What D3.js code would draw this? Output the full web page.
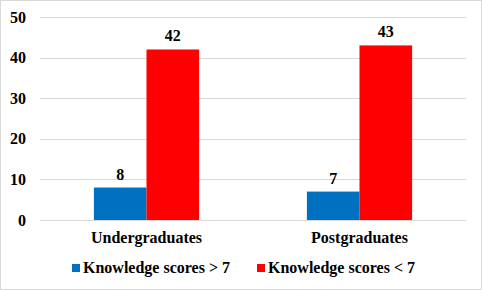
<!DOCTYPE html>
<html>
<head>
<meta charset="utf-8">
<script src="https://cdn.jsdelivr.net/npm/d3@7"></script>
<style>
  body { margin: 0; background: #fff; }
  svg text { font-family: "Liberation Serif", "Times New Roman", Times, serif; font-weight: bold; fill: #000; }
</style>
</head>
<body>
<svg id="chart"></svg>
<script>
const categories = ["Undergraduates", "Postgraduates"];
const seriesNames = ["Knowledge scores > 7", "Knowledge scores < 7"];
const above7 = [8, 7];
const below7 = [42, 43];
const yTicks = [0, 10, 20, 30, 40, 50];
const colors = ["#0070C0", "#FF0000"];

const width = 482, height = 290;
const margin = { top: 17, right: 16, bottom: 70, left: 40 };
const fontSize = "16px";

const svg = d3.select("#chart")
    .attr("width", width)
    .attr("height", height);

// outer border
svg.append("rect")
    .attr("x", 0.5).attr("y", 0.5)
    .attr("width", width - 1).attr("height", height - 1)
    .attr("fill", "#fff")
    .attr("stroke", "#d9d9d9");

const plotW = width - margin.left - margin.right;
const plotH = 220 - margin.top;

const g = svg.append("g")
    .attr("transform", `translate(${margin.left},${margin.top})`);

const x = d3.scaleBand().domain(categories).range([0, plotW]).padding(0);
const y = d3.scaleLinear().domain([0, 50]).range([plotH, 0]);

// gridlines
g.selectAll(".grid")
    .data(yTicks)
    .join("line")
    .attr("class", "grid")
    .attr("x1", 0).attr("x2", plotW)
    .attr("y1", d => Math.round(y(d)) + 0.5)
    .attr("y2", d => Math.round(y(d)) + 0.5)
    .attr("stroke", "#d9d9d9");

// y axis labels
const yAxis = d3.axisLeft(y).tickValues(yTicks).tickSize(0).tickPadding(14);
g.append("g")
    .call(yAxis)
    .attr("font-family", null)
    .call(a => a.select(".domain").remove())
    .selectAll("text")
    .style("font-size", fontSize);

const barW = x.bandwidth() * 0.247;
const data = categories.map((c, i) => ({ cat: c, vals: [above7[i], below7[i]] }));

data.forEach(d => {
  const cx = x(d.cat) + x.bandwidth() / 2;
  d.vals.forEach((v, j) => {
    const bx = cx + (j === 0 ? -barW : 0);
    g.append("rect")
        .attr("x", bx)
        .attr("y", y(v))
        .attr("width", barW)
        .attr("height", y(0) - y(v))
        .attr("fill", colors[j]);
    g.append("text")
        .attr("x", bx + barW / 2)
        .attr("y", y(v) - 8)
        .attr("text-anchor", "middle")
        .style("font-size", fontSize)
        .text(v);
  });
});

// category labels
g.selectAll(".cat")
    .data(categories)
    .join("text")
    .attr("class", "cat")
    .attr("x", d => x(d) + x.bandwidth() / 2)
    .attr("y", plotH + 23)
    .attr("text-anchor", "middle")
    .style("font-size", fontSize)
    .text(d => d);

// legend
const legendX = [72, 257];
const legend = svg.selectAll(".legend")
    .data(seriesNames)
    .join("g")
    .attr("class", "legend")
    .attr("transform", (d, i) => `translate(${legendX[i]},268)`);
legend.append("rect")
    .attr("x", 0).attr("y", -4)
    .attr("width", 8).attr("height", 8)
    .attr("fill", (d, i) => colors[i]);
legend.append("text")
    .attr("x", 11).attr("y", 5)
    .style("font-size", fontSize)
    .text(d => d);
</script>
</body>
</html>
